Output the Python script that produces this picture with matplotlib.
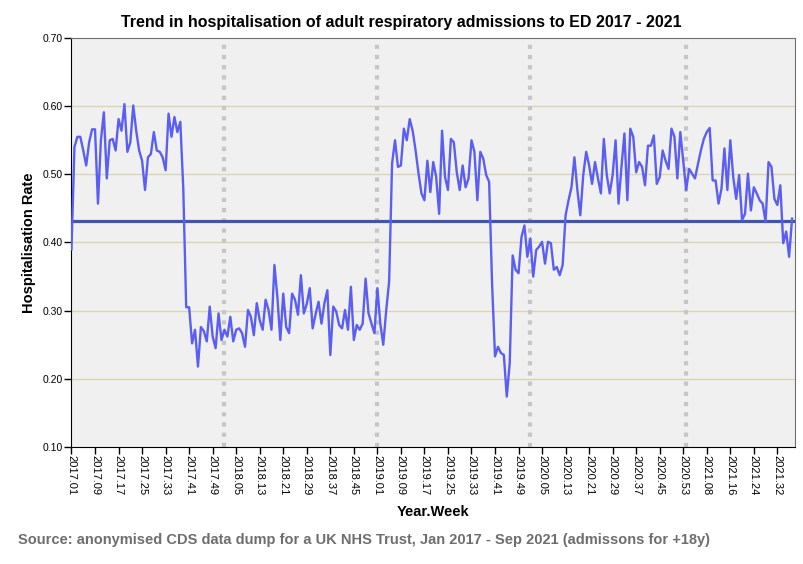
import numpy as np
import matplotlib
matplotlib.use('Agg')
import matplotlib.pyplot as plt

plt.rcParams['font.family'] = ['Liberation Sans', 'DejaVu Sans']

# weekly hospitalisation rate, one list per year
rate_2017 = [0.390, 0.540, 0.555, 0.555, 0.535, 0.513, 0.547, 0.566, 0.566, 0.457,
             0.550, 0.591, 0.494, 0.550, 0.552, 0.535, 0.581, 0.564, 0.603, 0.533,
             0.547, 0.601, 0.564, 0.535, 0.520, 0.477, 0.525, 0.530, 0.562, 0.535,
             0.533, 0.525, 0.506, 0.589, 0.555, 0.584, 0.562, 0.577, 0.480, 0.305,
             0.305, 0.252, 0.272, 0.218, 0.276, 0.270, 0.255, 0.306, 0.262, 0.245,
             0.296, 0.257]
rate_2018 = [0.272, 0.262, 0.291, 0.255, 0.272, 0.274, 0.267, 0.247, 0.301, 0.291,
             0.264, 0.311, 0.286, 0.272, 0.316, 0.301, 0.272, 0.367, 0.320, 0.257,
             0.325, 0.276, 0.267, 0.325, 0.316, 0.294, 0.352, 0.296, 0.310, 0.333,
             0.274, 0.295, 0.313, 0.281, 0.311, 0.330, 0.235, 0.306, 0.299, 0.279,
             0.274, 0.301, 0.272, 0.335, 0.257, 0.279, 0.272, 0.281, 0.347, 0.296,
             0.281, 0.267]
rate_2019 = [0.333, 0.281, 0.250, 0.300, 0.343, 0.516, 0.550, 0.511, 0.513, 0.567,
             0.550, 0.581, 0.564, 0.535, 0.501, 0.472, 0.462, 0.520, 0.474, 0.518,
             0.496, 0.442, 0.564, 0.496, 0.477, 0.552, 0.547, 0.503, 0.477, 0.513,
             0.481, 0.494, 0.550, 0.533, 0.462, 0.533, 0.523, 0.499, 0.489, 0.340,
             0.233, 0.247, 0.238, 0.235, 0.174, 0.223, 0.381, 0.360, 0.355, 0.408,
             0.425, 0.379]
rate_2020 = [0.406, 0.350, 0.389, 0.394, 0.401, 0.369, 0.401, 0.399, 0.360, 0.364,
             0.352, 0.367, 0.440, 0.462, 0.481, 0.525, 0.477, 0.440, 0.499, 0.533,
             0.513, 0.486, 0.518, 0.494, 0.472, 0.552, 0.499, 0.472, 0.499, 0.550,
             0.457, 0.511, 0.560, 0.462, 0.567, 0.555, 0.503, 0.518, 0.511, 0.484,
             0.542, 0.542, 0.557, 0.486, 0.496, 0.535, 0.520, 0.508, 0.567, 0.555,
             0.494, 0.562, 0.520]
rate_2021 = [0.477, 0.508, 0.501, 0.494, 0.515, 0.535, 0.552, 0.562, 0.568, 0.491,
             0.491, 0.457, 0.479, 0.538, 0.477, 0.550, 0.496, 0.464, 0.499, 0.433,
             0.442, 0.501, 0.447, 0.481, 0.472, 0.462, 0.457, 0.430, 0.518, 0.511,
             0.464, 0.455, 0.484, 0.399, 0.416, 0.379, 0.435]

years = [2017, 2018, 2019, 2020, 2021]
mean_rate = 0.431

yearly = [rate_2017, rate_2018, rate_2019, rate_2020, rate_2021]
rates = np.concatenate(yearly)
labels = []
for yr, vals in zip(years, yearly):
    labels += ['%d.%02d' % (yr, w + 1) for w in range(len(vals))]
x = np.arange(len(rates))
year_starts = [i for i, lab in enumerate(labels) if lab.endswith('.01') and i > 0]

W, H = 804, 564
fig = plt.figure(figsize=(W / 100, H / 100), dpi=100)
ax = fig.add_axes([71.5 / W, 1 - 447 / H, (795 - 71.5) / W, (447 - 38) / H])
ax.set_facecolor('#f0f0f0')

for gy in [0.2, 0.3, 0.4, 0.5, 0.6]:
    ax.axhline(gy, color='#d9d5b0', lw=1, zorder=1)
for xs in year_starts:
    ax.axvline(xs, color='#c6c6c6', lw=3, linestyle=(0, (1, 1.45)), zorder=1)

ax.axhline(mean_rate, color='#4055ad', lw=2.3, zorder=2)
ax.plot(x, rates, color='#5a5ef2', lw=1.7, zorder=3)

ax.set_xlim(0, len(rates))
ax.set_ylim(0.1, 0.7)
ax.set_yticks(np.arange(0.1, 0.701, 0.1))
ax.set_yticklabels(['%.2f' % v for v in np.arange(0.1, 0.701, 0.1)], fontsize=7.5)
ax.set_xticks(x[::8])
ax.set_xticklabels(labels[::8], rotation=-90, fontsize=8, va='top', ha='center')
ax.tick_params(length=5, width=1, color='black', pad=1)

for s in ['left', 'bottom']:
    ax.spines[s].set_color('black')
for s in ['top', 'right']:
    ax.spines[s].set_color('#707070')

ax.set_ylabel('Hospitalisation Rate', fontsize=10.5, fontweight='bold', labelpad=5)
ax.set_xlabel('Year.Week', fontsize=10.5, fontweight='bold', labelpad=7)

fig.text(401 / W, 1 - 22 / H, 'Trend in hospitalisation of adult respiratory admissions to ED 2017 - 2021',
         ha='center', va='center', fontsize=11.5, fontweight='bold')
fig.text(18 / W, 1 - 540 / H,
         'Source: anonymised CDS data dump for a UK NHS Trust, Jan 2017 - Sep 2021 (admissons for +18y)',
         ha='left', va='center', fontsize=10.5, fontweight='bold', color='#6e6e6e')

fig.savefig('out.png', dpi=100)
